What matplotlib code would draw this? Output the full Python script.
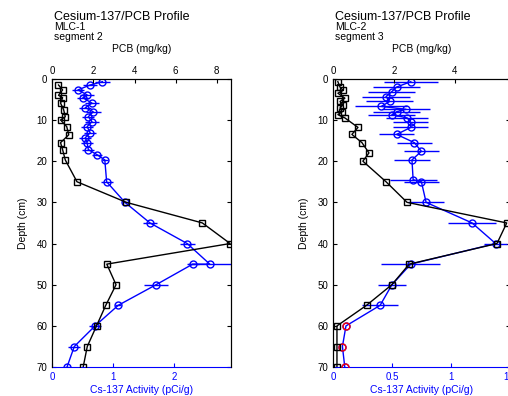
import numpy as np
import matplotlib.pyplot as plt

plt.rcParams['font.family'] = ['Liberation Sans', 'DejaVu Sans']

# segment 2 (left)
cs_depth_l = [0.7, 1.5, 2.7, 3.9, 4.6, 5.9, 7.0, 8.0, 9.2, 10.4, 11.6, 13.1, 14.3, 15.5, 17.2,
              18.4, 19.7, 25, 30, 35, 40, 45, 45, 50, 55, 60, 65, 70]
cs_l = [0.82, 0.62, 0.42, 0.57, 0.50, 0.65, 0.54, 0.67, 0.59, 0.65, 0.57, 0.62, 0.54, 0.57, 0.59,
        0.73, 0.86, 0.89, 1.19, 1.60, 2.21, 2.58, 2.30, 1.70, 1.08, 0.70, 0.36, 0.24]
cs_err_l = [0.12, 0.12, 0.1, 0.12, 0.1, 0.12, 0.1, 0.12, 0.1, 0.12, 0.1, 0.1, 0.1, 0.1, 0.1,
            0.08, 0.05, 0.1, 0.05, 0.12, 0.12, 0.35, 0.1, 0.2, 0.05, 0.1, 0.1, 0.05]
pcb_depth_l = [1.5, 2.7, 4.0, 4.6, 5.9, 7.5, 9.2, 10, 11.6, 13.6, 15.5, 17.2, 19.7, 25, 30, 35,
               40, 45, 50, 55, 60, 65, 70]
pcb_l = [0.3, 0.5, 0.3, 0.5, 0.4, 0.55, 0.63, 0.4, 0.7, 0.8, 0.4, 0.5, 0.63, 1.2, 3.6, 7.3,
         8.65, 2.65, 3.1, 2.6, 2.15, 1.7, 1.5]

# segment 3 (right)
cs_depth_r = [0.7, 2.0, 3.1, 4.3, 5.5, 6.7, 7.4, 8.0, 8.7, 9.5, 10.6, 11.8, 13.5, 15.5, 17.6,
              19.7, 24.5, 25, 30, 35, 40, 45, 50, 55, 60, 65, 70]
cs_r = [0.66, 0.54, 0.50, 0.45, 0.48, 0.41, 0.62, 0.54, 0.50, 0.63, 0.66, 0.66, 0.54, 0.69, 0.75,
        0.67, 0.68, 0.75, 0.79, 1.18, 1.38, 0.66, 0.50, 0.40, 0.11, 0.08, 0.10]
cs_err_r = [0.23, 0.2, 0.2, 0.2, 0.2, 0.22, 0.2, 0.2, 0.2, 0.18, 0.15, 0.15, 0.15, 0.15, 0.15,
            0.15, 0.2, 0.15, 0.15, 0.2, 0.1, 0.25, 0.12, 0.15, 0.0, 0.0, 0.0]
pcb_depth_r = [0.7, 2.0, 2.8, 3.5, 4.7, 5.5, 6.3, 7.1, 8.0, 8.7, 9.5, 11.8, 13.5, 15.5, 18, 20,
               25, 30, 35, 40, 45, 50, 55, 60, 65, 70]
pcb_r = [0.16, 0.23, 0.33, 0.16, 0.39, 0.23, 0.33, 0.23, 0.30, 0.16, 0.39, 0.82, 0.62, 0.95, 1.18,
         0.98, 1.74, 2.43, 5.7, 5.38, 2.5, 1.93, 1.1, 0.13, 0.13, 0.13]
bdl_n = 3  # last points drawn red

fig = plt.figure(figsize=(5.08, 3.96), dpi=100)


def panel(rect, cs_d, cs, cs_e, pcb_d, pcb, cs_max, pcb_max, cs_ticks, pcb_ticks, core, seg, red=0):
    ax = fig.add_axes(rect)
    ax.errorbar(cs, cs_d, xerr=cs_e, color='blue', marker='o', ms=5, mfc='none', mec='blue',
                lw=1, elinewidth=1, capsize=0, zorder=3)
    if red:
        ax.plot(cs[-red:], cs_d[-red:], 'o', ms=5, mfc='none', mec='red', zorder=5)
    ax.set_xlim(0, cs_max)
    ax.set_ylim(70, 0)
    ax.set_yticks(range(0, 71, 10))
    ax.set_xticks(cs_ticks)
    ax.set_xticklabels([('%g' % t) for t in cs_ticks])
    ax.tick_params(axis='x', colors='blue', direction='in', labelsize=7, length=3)
    ax.tick_params(axis='y', direction='in', right=True, labelsize=7, length=3)
    ax.spines['bottom'].set_color('blue')
    ax.set_xlabel('Cs-137 Activity (pCi/g)', color='blue', fontsize=7.5, labelpad=2)
    ax.set_ylabel('Depth (cm)', fontsize=7.5, labelpad=6)

    ax2 = ax.twiny()
    ax2.plot(pcb, pcb_d, color='black', marker='s', ms=5, mfc='none', mec='black', lw=1, zorder=4)
    ax2.set_xlim(0, pcb_max)
    ax2.set_xticks(pcb_ticks)
    ax2.tick_params(axis='x', direction='in', labelsize=7, length=3, pad=2)
    ax2.spines['bottom'].set_visible(False)
    ax2.set_xlabel('PCB (mg/kg)', fontsize=7.5, labelpad=10)

    x0 = rect[0] + 0.004
    fig.text(x0, 0.957, 'Cesium-137/PCB Profile', fontsize=9, ha='left', va='center')
    fig.text(x0, 0.931, core, fontsize=7.5, ha='left', va='center')
    fig.text(x0, 0.906, seg, fontsize=7.5, ha='left', va='center')


panel([0.103, 0.073, 0.352, 0.728], cs_depth_l, cs_l, cs_err_l, pcb_depth_l, pcb_l,
      2.93, 8.7, [0, 1, 2], [0, 2, 4, 6, 8], 'MLC-1', 'segment 2')
panel([0.6555, 0.073, 0.348, 0.728], cs_depth_r, cs_r, cs_err_r, pcb_depth_r, pcb_r,
      1.49, 5.8, [0, 0.5, 1, 1.5], [0, 2, 4], 'MLC-2', 'segment 3', red=bdl_n)

fig.savefig('out.png', dpi=100)
